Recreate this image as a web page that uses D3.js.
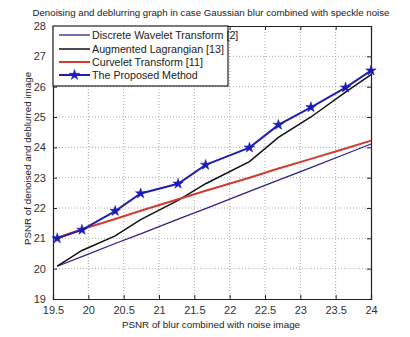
<!DOCTYPE html>
<html><head><meta charset="utf-8">
<script src="https://cdn.jsdelivr.net/npm/d3@7"></script>
<style>body{margin:0;background:#fff}svg{display:block}text{font-family:Arial,"Liberation Sans",sans-serif}</style>
</head><body><svg id="c" width="410" height="337"></svg>
<script>
const xValues = [19.56, 19.91, 20.38, 20.74, 21.27, 21.66, 22.28, 22.69, 23.15, 23.64, 24.0];
const dwt = [20.08, 20.40, 20.83, 21.15, 21.63, 21.98, 22.55, 22.92, 23.33, 23.78, 24.11];
const augLag = [20.08, 20.60, 21.08, 21.62, 22.25, 22.80, 23.53, 24.33, 25.00, 25.82, 26.40];
const curvelet = [21.02, 21.30, 21.64, 21.91, 22.29, 22.57, 23.00, 23.30, 23.62, 23.96, 24.22];
const proposed = [21.00, 21.28, 21.90, 22.48, 22.80, 23.42, 23.99, 24.74, 25.32, 25.97, 26.53];
const xTicks = [19.5, 20, 20.5, 21, 21.5, 22, 22.5, 23, 23.5, 24];
const yTicks = [19, 20, 21, 22, 23, 24, 25, 26, 27, 28];
const seriesNames = ["Discrete Wavelet Transform [2]", "Augmented Lagrangian [13]", "Curvelet Transform [11]", "The Proposed Method"];
const title = "Denoising and deblurring graph in case Gaussian blur combined with speckle noise";
const xLabel = "PSNR of blur combined with noise image";
const yLabel = "PSNR of denoised and deblurred image";

const svg = d3.select("#c");
const L = 53, R = 371, T = 26, B = 299;
const x = d3.scaleLinear().domain([19.5, 24]).range([L, R]);
const y = d3.scaleLinear().domain([19, 28]).range([B, T]);

// grid
const g = svg.append("g");
g.selectAll(".gx").data(xTicks.slice(1, -1)).join("line")
  .attr("x1", d => x(d)).attr("x2", d => x(d)).attr("y1", T).attr("y2", B)
  .attr("stroke", "#aaa").attr("stroke-width", 1).attr("stroke-dasharray", "1,2");
g.selectAll(".gy").data(yTicks.slice(1, -1)).join("line")
  .attr("y1", d => y(d)).attr("y2", d => y(d)).attr("x1", L).attr("x2", R)
  .attr("stroke", "#aaa").attr("stroke-width", 1).attr("stroke-dasharray", "1,2");

// axes
const xa = svg.append("g").attr("transform", `translate(0,${B})`)
  .call(d3.axisBottom(x).tickValues(xTicks).tickSize(-4).tickPadding(7).tickFormat(d3.format("")));
const xt = svg.append("g").attr("transform", `translate(0,${T})`)
  .call(d3.axisTop(x).tickValues(xTicks).tickSize(-4).tickFormat(""));
const ya = svg.append("g").attr("transform", `translate(${L},0)`)
  .call(d3.axisLeft(y).tickValues(yTicks).tickSize(-4).tickPadding(7).tickFormat(d3.format("")));
const yr = svg.append("g").attr("transform", `translate(${R},0)`)
  .call(d3.axisRight(y).tickValues(yTicks).tickSize(-4).tickFormat(""));
[xa, xt, ya, yr].forEach(a => {
  a.select(".domain").attr("stroke", "#222").attr("stroke-width", 1.2);
  a.selectAll(".tick line").attr("stroke", "#222");
  a.selectAll("text").attr("font-size", 11).attr("fill", "#333").attr("font-family", "Arial, 'Liberation Sans', sans-serif");
});

const line = d3.line().x((d, i) => x(xValues[i])).y(d => y(d));
const styles = [
  {data: dwt, color: "#262680", w: 1.3},
  {data: augLag, color: "#111", w: 1.5},
  {data: curvelet, color: "#d23a32", w: 2},
  {data: proposed, color: "#2020b0", w: 2}
];
styles.forEach(s => {
  svg.append("path").datum(s.data).attr("d", line).attr("fill", "none")
    .attr("stroke", s.color).attr("stroke-width", s.w);
});
const star = d3.symbol().type(d3.symbolStar).size(34);
svg.selectAll(".mk").data(proposed).join("path")
  .attr("d", star).attr("transform", (d, i) => `translate(${x(xValues[i])},${y(d)})`)
  .attr("fill", "#1a1ab8").attr("stroke", "#1a1ab8").attr("stroke-width", 0.5);

// legend
const lg = svg.append("g");
lg.append("rect").attr("x", L).attr("y", T).attr("width", 175).attr("height", 60)
  .attr("fill", "#fff").attr("stroke", "#222").attr("stroke-width", 1.2);
const ly = [35, 49, 62, 75];
seriesNames.forEach((n, i) => {
  lg.append("line").attr("x1", 59).attr("x2", 90).attr("y1", ly[i]).attr("y2", ly[i])
    .attr("stroke", styles[i].color).attr("stroke-width", styles[i].w);
  if (i === 3) lg.append("path").attr("d", star).attr("transform", `translate(74.5,${ly[i]})`)
    .attr("fill", "#1a1ab8").attr("stroke", "#1a1ab8").attr("stroke-width", 0.5);
  lg.append("text").attr("x", 92).attr("y", ly[i] + 4).attr("font-size", 10.7).attr("fill", "#222").text(n);
});

svg.append("text").attr("x", 211).attr("y", 16).attr("text-anchor", "middle")
  .attr("font-size", 9.7).attr("fill", "#222").text(title);
svg.append("text").attr("x", 211).attr("y", 328).attr("text-anchor", "middle")
  .attr("font-size", 9.8).attr("fill", "#222").text(xLabel);
svg.append("text").attr("transform", `translate(31,${(T + B) / 2 - 4}) rotate(-90)`).attr("text-anchor", "middle")
  .attr("font-size", 9.8).attr("fill", "#222").text(yLabel);
</script></body></html>
